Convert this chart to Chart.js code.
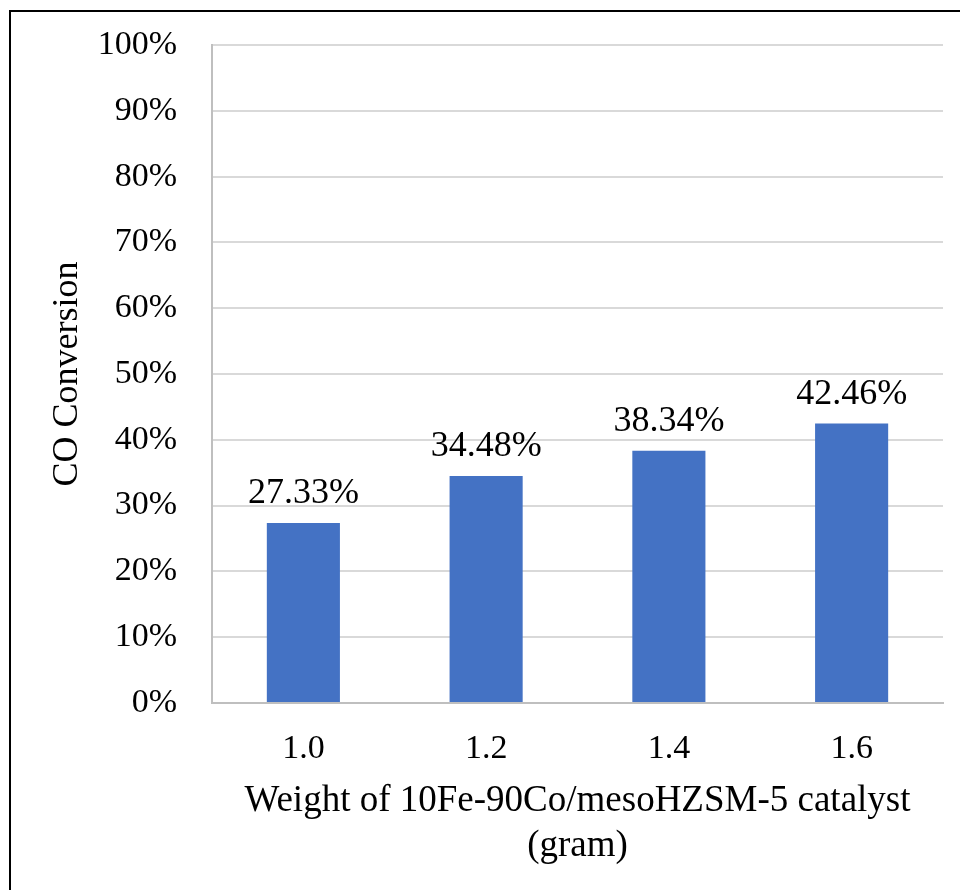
<!DOCTYPE html>
<html>
<head>
<meta charset="utf-8">
<script src="https://cdn.jsdelivr.net/npm/chart.js@4/dist/chart.umd.min.js"></script>
<style>
  html, body { margin: 0; padding: 0; background: #fff; overflow: hidden; }
  #wrap { position: relative; width: 960px; height: 890px; }
  #frame { position: absolute; left: 9px; top: 10px; width: 1000px; height: 1000px; border: 2px solid #000; box-sizing: border-box; }
  canvas { position: absolute; left: 0; top: 0; }
</style>
</head>
<body>
<div id="wrap">
  <div id="frame"></div>
  <canvas id="chart" width="960" height="890"></canvas>
</div>
<script>
  // values
  const catalystWeights = ["1.0", "1.2", "1.4", "1.6"];
  const coConversion = [27.33, 34.48, 38.34, 42.46];
  const yTicks = [0, 10, 20, 30, 40, 50, 60, 70, 80, 90, 100];

  const FONT = "'Liberation Serif', 'Times New Roman', serif";
  const tickSize = 34;
  const labelSize = 36;
  const titleSize = 37;
  const padLeft = 46;

  // write each value above its bar
  const barLabels = {
    id: "barLabels",
    afterDatasetsDraw(chart) {
      const ctx = chart.ctx;
      const meta = chart.getDatasetMeta(0);
      ctx.save();
      ctx.font = labelSize + "px " + FONT;
      ctx.fillStyle = "#000";
      ctx.textAlign = "center";
      ctx.textBaseline = "alphabetic";
      meta.data.forEach((bar, i) => {
        const p = bar.getProps(["x", "y"], true);
        ctx.fillText(coConversion[i].toFixed(2) + "%", p.x, p.y - 20);
      });
      ctx.restore();
    }
  };

  const chart = new Chart(document.getElementById("chart"), {
    type: "bar",
    data: {
      labels: catalystWeights,
      datasets: [{
        data: coConversion,
        backgroundColor: "#4472C4",
        borderWidth: 0,
        barPercentage: 0.4,
        categoryPercentage: 1.0
      }]
    },
    options: {
      responsive: false,
      animation: false,
      devicePixelRatio: 1,
      layout: { padding: { left: padLeft, right: 17, top: 45, bottom: 21 } },
      plugins: {
        legend: { display: false },
        tooltip: { enabled: false }
      },
      scales: {
        x: {
          grid: { display: false, drawTicks: false },
          border: { display: true, color: "#bfbfbf", width: 2 },
          ticks: { color: "#000", font: { family: FONT, size: tickSize }, padding: 26 },
          title: {
            display: true,
            text: ["Weight of 10Fe-90Co/mesoHZSM-5 catalyst", "(gram)"],
            color: "#000",
            font: { family: FONT, size: titleSize, lineHeight: 1.22 },
            padding: { top: -17, bottom: 0 }
          }
        },
        y: {
          min: 0,
          max: 100,
          afterBuildTicks(scale) {
            scale.ticks = yTicks.map(v => ({ value: v }));
          },
          afterFit(scale) {
            scale.width = 212 - padLeft;
            scale.paddingTop = 0;
            scale.paddingBottom = 0;
          },
          grid: { color: "#d9d9d9", lineWidth: 2, drawTicks: false },
          border: { display: true, color: "#bfbfbf", width: 2 },
          ticks: {
            color: "#000",
            font: { family: FONT, size: tickSize },
            padding: 35,
            callback: v => v + "%"
          },
          title: {
            display: true,
            text: "CO Conversion",
            color: "#000",
            font: { family: FONT, size: 36 },
            padding: { top: 0, bottom: 0 }
          }
        }
      }
    },
    plugins: [barLabels]
  });
</script>
</body>
</html>
